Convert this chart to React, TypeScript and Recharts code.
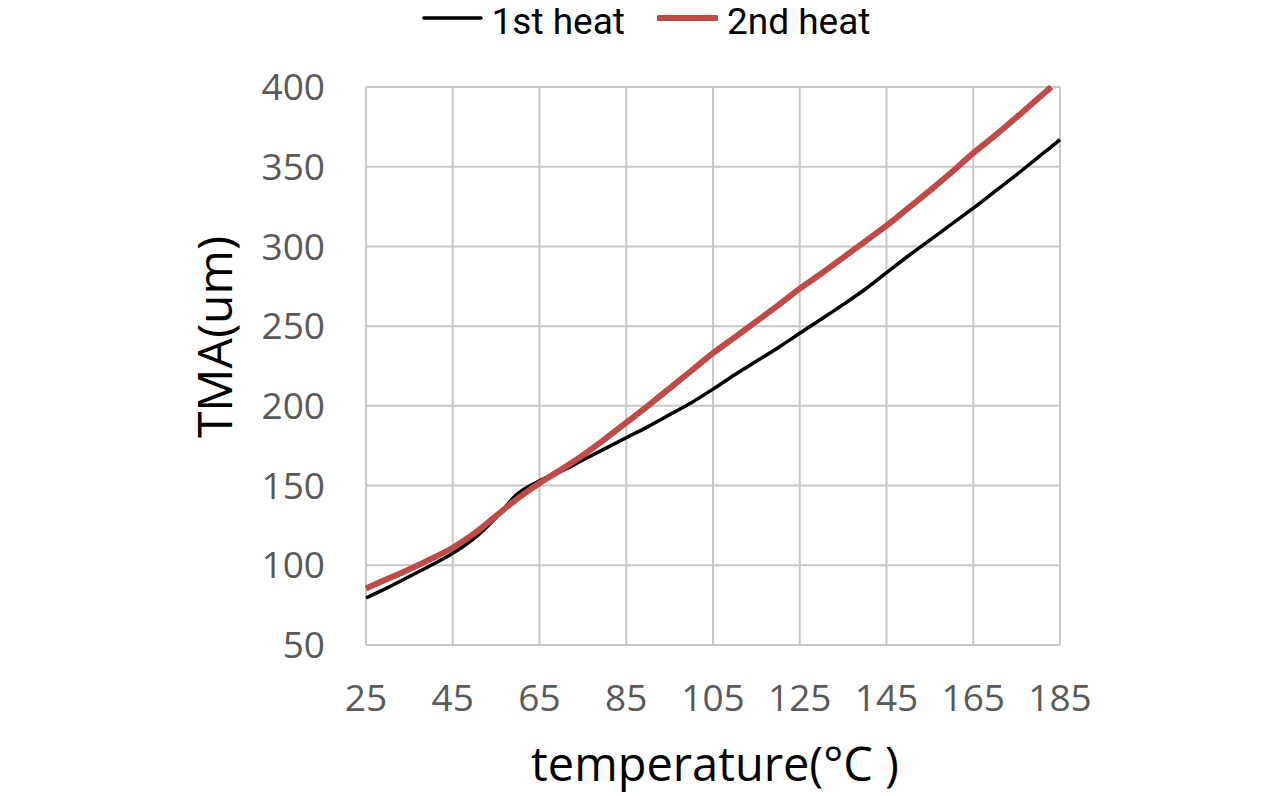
import React from 'react';
import { LineChart, Line, XAxis, YAxis, CartesianGrid, Legend } from 'recharts';

const temperatures = [25, 30, 35, 40, 45, 50, 55, 60, 65, 70, 75, 80, 85, 90, 95, 100, 105, 110, 115, 120, 125, 130, 135, 140, 145, 150, 155, 160, 165, 170, 175, 180, 183, 185];
const firstHeat = [79.5, 86, 93, 100, 107.5, 117, 130, 145, 153, 159, 166, 173, 180, 187, 194.5, 202, 210.5, 219.5, 228, 236.5, 245.5, 254.5, 263.5, 273, 283.5, 294, 304, 314, 324, 334.5, 345, 356, 362.5, 367];
const secondHeat = [85.5, 91.5, 97.5, 104, 111, 120, 131, 142, 151.5, 160, 169, 179, 189.5, 200, 211, 222, 233, 243, 253, 263, 273.5, 283, 293, 303, 313, 324, 335, 346.5, 358.5, 369.5, 381, 393, 400, null];
const xTicks = [25, 45, 65, 85, 105, 125, 145, 165, 185];
const yTicks = [50, 100, 150, 200, 250, 300, 350, 400];
const seriesNames = ['1st heat', '2nd heat'];

const data = temperatures.map((t, i) => ({ t, a: firstHeat[i], b: secondHeat[i] }));

const FONT = '"Open Sans", "Noto Sans", sans-serif';
const LEGEND_FONT = 'Roboto, "Open Sans", sans-serif';
const TICK_COLOR = '#595959';
const BLACK = '#000000';
const RED = '#BE4B48';

const LegendContent = (props: any) => {
  const payload = props.payload || [];
  return (
    <div style={{ display: 'flex', justifyContent: 'center', alignItems: 'flex-start', fontFamily: LEGEND_FONT, fontSize: 37, lineHeight: 'normal', color: '#000' }}>
      {payload.map((p: any, i: number) => (
        <div key={i} style={{ display: 'flex', alignItems: 'flex-start', marginLeft: i === 0 ? 0 : 32 }}>
          <svg width={61} height={10} style={{ marginRight: 9, marginTop: 13 }}>
            <line x1={2} y1={5} x2={59} y2={5} stroke={p.color} strokeWidth={i === 0 ? 3.5 : 6} strokeLinecap="round" />
          </svg>
          <span>{p.value}</span>
        </div>
      ))}
    </div>
  );
};

export default function App() {
  return (
    <div style={{ width: 1276, height: 796, marginTop: -8, background: '#fff' }}>
      <LineChart width={1276} height={796} data={data} margin={{ top: 87, right: 224, bottom: 91, left: 258 }}>
        <CartesianGrid stroke="#C8C8C8" strokeWidth={2} />
        <XAxis
          dataKey="t"
          type="number"
          domain={[25, 185]}
          ticks={xTicks}
          axisLine={false}
          tickLine={false}
          tickSize={0}
          tickMargin={40}
          height={60}
          interval={0}
          tick={{ fill: TICK_COLOR, fontSize: 37, fontFamily: FONT }}
          label={{
            content: () => (
              <text x={707} y={781} textAnchor="middle" fontFamily={FONT} fontSize={47} fill="#000">
                temperature(°C )
              </text>
            ),
          }}
        />
        <YAxis
          type="number"
          domain={[50, 400]}
          ticks={yTicks}
          axisLine={false}
          tickLine={false}
          tickSize={0}
          tickMargin={41}
          width={100}
          interval={0}
          tick={{ fill: TICK_COLOR, fontSize: 37, fontFamily: FONT }}
          label={{
            content: () => (
              <text x={224} y={337} transform="rotate(-90 224 337)" textAnchor="middle" fontFamily={FONT} fontSize={48} fill="#000">
                TMA(um)
              </text>
            ),
          }}
        />
        <Legend
          layout="horizontal"
          verticalAlign="middle"
          align="center"
          wrapperStyle={{ top: 0, left: 0, width: 1276 }}
          content={LegendContent}
        />
        <Line name={seriesNames[0]} dataKey="a" type="monotone" stroke={BLACK} strokeWidth={3.5} dot={false} isAnimationActive={false} />
        <Line name={seriesNames[1]} dataKey="b" type="monotone" stroke={RED} strokeWidth={6} dot={false} isAnimationActive={false} connectNulls={false} />
      </LineChart>
    </div>
  );
}
